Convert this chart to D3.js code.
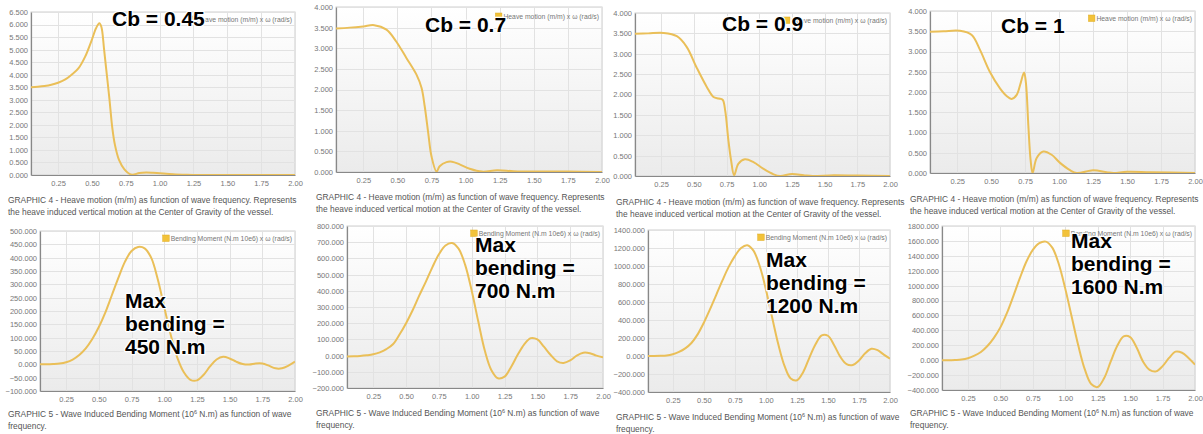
<!DOCTYPE html>
<html>
<head>
<meta charset="UTF-8">
<title>Heave motion and bending moment vs wave frequency</title>
<script src="https://d3js.org/d3.v7.min.js"></script>
<style>
  body { margin: 0; background: #fff; }
  svg { display: block; font-family: "Liberation Sans", Arial, sans-serif; }
</style>
</head>
<body>
<svg id="viz" width="1203" height="434"></svg>
<script>
// ---- data ----
// heave motion (m/m) vs wave frequency (rad/s)
var heaveFreq045 = [0.05,0.1,0.15,0.2,0.25,0.3,0.35,0.4,0.45,0.5,0.53,0.555,0.57,0.59,0.61,0.63,0.65,0.67,0.7,0.74,0.77,0.8,0.85,0.9,0.95,1.0,1.1,1.2,1.3,1.5,1.75,2.0];
var heave045     = [3.5,3.52,3.55,3.6,3.68,3.8,4.0,4.25,4.72,5.4,5.85,6.05,5.9,5.0,4.0,3.0,1.9,1.2,0.6,0.22,0.07,0.01,0.08,0.1,0.09,0.07,0.03,0.01,0,0,0,0];

var heaveFreq07 = [0.05,0.15,0.25,0.33,0.42,0.49,0.567,0.64,0.677,0.7,0.726,0.75,0.787,0.81,0.86,0.9,0.96,1.03,1.12,1.23,1.35,1.5,1.75,2.0];
var heave07     = [3.48,3.5,3.53,3.56,3.45,3.17,2.76,2.36,2.04,1.6,0.95,0.38,0.01,0.14,0.24,0.25,0.18,0.08,0.01,0.04,0.02,0.01,0.01,0];

var heaveFreq09 = [0.05,0.15,0.27,0.37,0.445,0.52,0.6,0.65,0.69,0.72,0.74,0.764,0.785,0.808,0.84,0.89,0.956,1.03,1.11,1.16,1.25,1.34,1.41,1.57,1.75,2.0];
var heave09     = [3.49,3.5,3.51,3.43,3.17,2.67,2.18,1.94,1.9,1.87,1.6,0.88,0.38,0.02,0.3,0.41,0.34,0.18,0.04,0.0,0.05,0.02,0.0,0.02,0.01,0];

var heaveFreq1 = [0.05,0.15,0.27,0.357,0.418,0.49,0.565,0.614,0.65,0.688,0.717,0.742,0.756,0.774,0.79,0.805,0.835,0.884,0.945,1.007,1.08,1.13,1.25,1.35,1.4,1.5,1.67,2.0];
var heave1     = [3.49,3.5,3.51,3.41,3.04,2.5,2.09,1.9,1.83,1.93,2.22,2.48,2.22,1.15,0.33,0,0.37,0.53,0.45,0.25,0.07,0,0.07,0.02,0,0.03,0.02,0];

// bending moment (N.m 10e6), all sampled on the same frequencies
var bendFreq = d3.range(1, 41).map(function(i) { return +(i * 0.05).toFixed(2); });
var bend045  = [0,0,1,3,8,18,35,60,95,140,195,260,325,385,425,440,435,400,320,215,110,25,-30,-58,-60,-40,-8,18,28,22,10,1,-1,3,3,-5,-15,-15,-5,10];
var bend07   = [-5,-4,-2,2,8,20,40,70,130,200,280,370,455,545,625,680,695,660,560,400,210,30,-90,-140,-130,-70,5,70,108,100,55,5,-35,-45,-30,0,18,15,0,-10];
var bend09   = [0,0,2,6,20,45,85,145,240,370,520,680,840,990,1110,1200,1230,1170,1000,740,430,130,-110,-250,-270,-180,-20,130,230,225,120,-10,-90,-100,-50,30,80,65,15,-30];
var bend1    = [0,0,3,8,25,60,110,190,300,440,630,860,1100,1320,1480,1570,1590,1510,1290,960,580,200,-120,-320,-360,-240,-20,190,320,310,170,-20,-130,-150,-80,30,115,100,30,-60];

// tick labels
var freqTicks = [0.25,0.5,0.75,1.0,1.25,1.5,1.75,2.0];
var heaveTicks045 = d3.range(0, 6.51, 0.5);
var heaveTicks = d3.range(0, 4.01, 0.5);
var bendTicks045 = d3.range(-100, 501, 50);
var bendTicks07 = d3.range(-200, 801, 100);
var bendTicks09 = d3.range(-400, 1401, 200);
var bendTicks1 = d3.range(-400, 1801, 200);

// texts
var heaveLegend = "Heave motion (m/m) x \u03c9 (rad/s)";
var bendLegend = "Bending Moment (N.m 10e6) x \u03c9 (rad/s)";
var heaveCaption = ["GRAPHIC 4 - Heave motion (m/m) as function of wave frequency. Represents",
                    "the heave induced vertical motion at the Center of Gravity of the vessel."];
var cbLabels = ["Cb = 0.45", "Cb = 0.7", "Cb = 0.9", "Cb = 1"];
var maxLabels = ["450 N.m", "700 N.m", "1200 N.m", "1600 N.m"];

// ---- layout of the 8 panels ----
var panels = [
  {l:31, r:295, t:12, b:175, x:heaveFreq045, y:heave045, ticks:heaveTicks045, legend:heaveLegend, legY:22, cap:8, capY:203, note:[cbLabels[0]], noteX:112, noteY:26},
  {l:336, r:602, t:7, b:172, x:heaveFreq07, y:heave07, ticks:heaveTicks, legend:heaveLegend, legY:19, cap:316, capY:200, note:[cbLabels[1]], noteX:425, noteY:32},
  {l:635, r:890, t:13, b:176, x:heaveFreq09, y:heave09, ticks:heaveTicks, legend:heaveLegend, legY:23, cap:616, capY:205, note:[cbLabels[2]], noteX:722, noteY:31},
  {l:930, r:1195, t:11, b:173, x:heaveFreq1, y:heave1, ticks:heaveTicks, legend:heaveLegend, legY:21, cap:910, capY:202, note:[cbLabels[3]], noteX:1001, noteY:33},
  {l:40, r:295, t:231, b:391, x:bendFreq, y:bend045, ticks:bendTicks045, legend:bendLegend, legY:241, cap:8, capY:417, bend:true, note:["Max","bending =",maxLabels[0]], noteX:125, noteY:308},
  {l:347, r:603, t:226, b:388, x:bendFreq, y:bend07, ticks:bendTicks07, legend:bendLegend, legY:236, cap:316, capY:416, bend:true, note:["Max","bending =",maxLabels[1]], noteX:475, noteY:252},
  {l:648, r:890, t:230, b:392, x:bendFreq, y:bend09, ticks:bendTicks09, legend:bendLegend, legY:240, cap:616, capY:420, bend:true, note:["Max","bending =",maxLabels[2]], noteX:766, noteY:267},
  {l:942, r:1195, t:226, b:390, x:bendFreq, y:bend1, ticks:bendTicks1, legend:bendLegend, legY:236, cap:910, capY:416, bend:true, note:["Max","bending =",maxLabels[3]], noteX:1071, noteY:248}
];

var svg = d3.select("#viz");
var defs = svg.append("defs");
var grad = defs.append("linearGradient").attr("id", "bg")
  .attr("x1", 0).attr("y1", 0).attr("x2", 0).attr("y2", 1);
grad.append("stop").attr("offset", "0%").attr("stop-color", "#ffffff");
grad.append("stop").attr("offset", "100%").attr("stop-color", "#ebebeb");

var lineColor = "#eabf58";

panels.forEach(function(p, i) {
  var x = d3.scaleLinear().domain([0.05, 2.0]).range([p.l, p.r]);
  var y = d3.scaleLinear().domain([p.ticks[0], p.ticks[p.ticks.length - 1]]).range([p.b, p.t]);
  var g = svg.append("g");

  defs.append("clipPath").attr("id", "clip" + i)
    .append("rect").attr("x", p.l).attr("y", p.t).attr("width", p.r - p.l).attr("height", p.b - p.t);

  // plot background + border
  g.append("rect").attr("x", p.l).attr("y", p.t).attr("width", p.r - p.l).attr("height", p.b - p.t)
    .attr("fill", "url(#bg)").attr("stroke", "#cfcfcf").attr("stroke-width", 1);

  // grid
  g.selectAll(".vg").data(freqTicks).enter().append("line")
    .attr("x1", function(d) { return Math.round(x(d)) + 0.5; })
    .attr("x2", function(d) { return Math.round(x(d)) + 0.5; })
    .attr("y1", p.t).attr("y2", p.b)
    .attr("stroke", "#e2e2e2");
  g.selectAll(".hg").data(p.ticks).enter().append("line")
    .attr("x1", p.l).attr("x2", p.r)
    .attr("y1", function(d) { return Math.round(y(d)) + 0.5; })
    .attr("y2", function(d) { return Math.round(y(d)) + 0.5; })
    .attr("stroke", "#e2e2e2");

  // axes (left + bottom darker)
  var yAxis = g.append("g").attr("transform", "translate(" + p.l + ",0)")
    .call(d3.axisLeft(y).tickValues(p.ticks).tickFormat(d3.format(".3f")).tickSize(0).tickPadding(3));
  var xAxis = g.append("g").attr("transform", "translate(0," + p.b + ")")
    .call(d3.axisBottom(x).tickValues(freqTicks).tickFormat(d3.format(".2f")).tickSize(0).tickPadding(6));
  [yAxis, xAxis].forEach(function(a) {
    a.select(".domain").attr("stroke", "#888").attr("stroke-width", 1.2);
    a.selectAll("text").attr("fill", "#777").style("font-size", "7.5px")
      .style("font-family", "'Liberation Sans', Arial, sans-serif");
  });

  // series line
  var line = d3.line()
    .x(function(d) { return x(d[0]); })
    .y(function(d) { return y(d[1]); })
    .curve(d3.curveCatmullRom.alpha(0.5));
  g.append("path")
    .datum(d3.zip(p.x, p.y))
    .attr("clip-path", "url(#clip" + i + ")")
    .attr("fill", "none").attr("stroke", lineColor).attr("stroke-width", 2)
    .attr("d", line);

  // legend (top right inside plot)
  var lt = g.append("text").attr("x", p.r - 3).attr("y", p.legY)
    .attr("text-anchor", "end").attr("fill", "#777").style("font-size", "6.8px")
    .text(p.legend);
  var lw = lt.node().getComputedTextLength();
  g.append("rect").attr("x", p.r - 3 - lw - 8).attr("y", p.legY - 6).attr("width", 6.5).attr("height", 6.5)
    .attr("fill", "#f2c23a").attr("stroke", "#e0ac20").attr("stroke-width", 0.5);

  // caption
  var cap = g.append("text").attr("x", p.cap).attr("y", p.capY).attr("fill", "#555").style("font-size", "8.4px");
  if (p.bend) {
    cap.append("tspan").text("GRAPHIC 5 - Wave Induced Bending Moment (10");
    cap.append("tspan").attr("dy", -3).style("font-size", "5.5px").text("6");
    cap.append("tspan").attr("dy", 3).text(" N.m) as function of wave");
    g.append("text").attr("x", p.cap).attr("y", p.capY + 12).attr("fill", "#555").style("font-size", "8.4px")
      .text("frequency.");
  } else {
    cap.text(heaveCaption[0]);
    g.append("text").attr("x", p.cap).attr("y", p.capY + 11.5).attr("fill", "#555").style("font-size", "8.4px")
      .text(heaveCaption[1]);
  }

  // big annotation, with a thin white halo so the legend behind it is masked
  p.note.forEach(function(t, k) {
    g.append("text").attr("x", p.noteX).attr("y", p.noteY + k * 23)
      .attr("fill", "#000").attr("stroke", "#fff").attr("stroke-width", 2.5)
      .attr("paint-order", "stroke").attr("stroke-linejoin", "round")
      .style("font-size", "21px").style("font-weight", "bold")
      .text(t);
  });
});
</script>
</body>
</html>
